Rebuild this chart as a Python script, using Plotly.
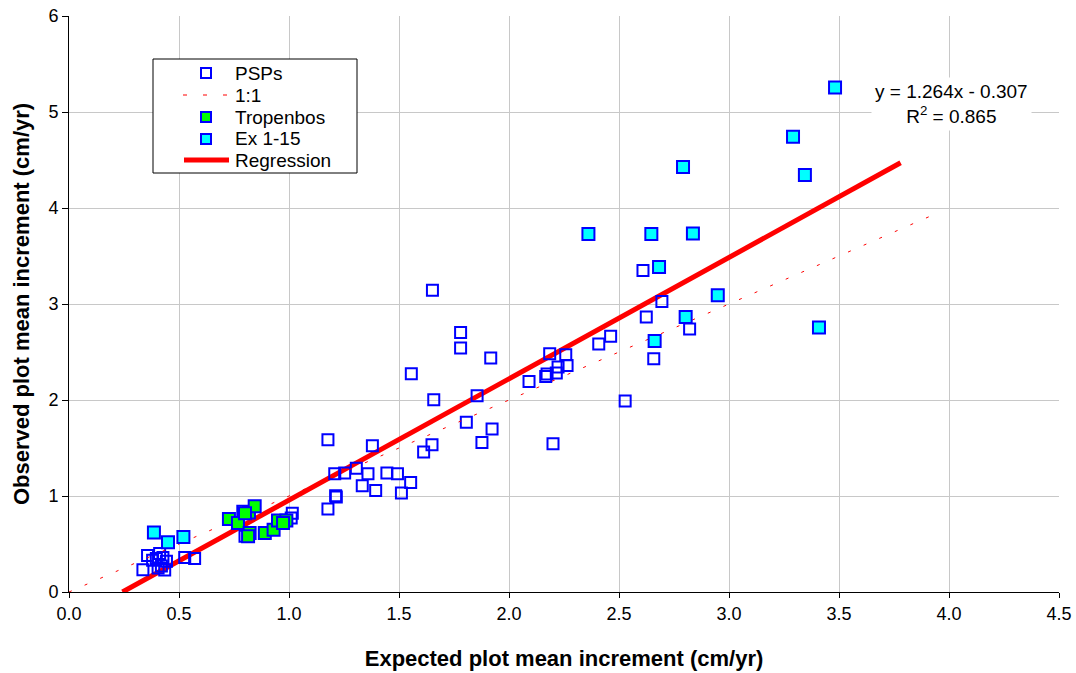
import plotly.graph_objects as go

# PSPs (open squares)
psp_x = [0.336, 0.357, 0.397, 0.412, 0.427, 0.420, 0.435, 0.405, 0.443, 0.526, 0.571, 0.380,
         0.800, 0.790, 1.015, 1.010,
         1.177, 1.212, 1.215, 1.177, 1.379, 1.208, 1.253, 1.306, 1.359, 1.445, 1.493, 1.553,
         1.333, 1.394, 1.511,
         1.556, 1.658, 1.855, 1.806, 1.923, 1.877, 1.650, 1.612,
         1.652, 1.780, 1.780, 1.917,
         2.609, 2.695, 2.624, 2.821, 2.658, 2.462, 2.408, 2.185, 2.258, 2.264, 2.223, 2.215,
         2.173, 2.167, 2.091, 2.528, 2.200]
psp_y = [0.232, 0.380, 0.350, 0.400, 0.360, 0.270, 0.230, 0.250, 0.320, 0.360, 0.350, 0.330,
         0.580, 0.840, 0.820, 0.770,
         0.865, 1.003, 0.990, 1.586, 1.524, 1.232, 1.240, 1.290, 1.232, 1.240, 1.232, 1.140,
         1.107, 1.058, 1.031,
         2.274, 2.003, 2.045, 1.767, 1.698, 1.558, 1.534, 1.458,
         3.142, 2.704, 2.541, 2.437,
         3.350, 3.027, 2.865, 2.740, 2.430, 2.663, 2.583, 2.482, 2.472, 2.360, 2.344, 2.280,
         2.270, 2.246, 2.194, 1.990, 1.545]

# Tropenbos (green)
trop_x = [0.727, 0.768, 0.818, 0.844, 0.800, 0.821, 0.814, 0.890, 0.930, 0.950, 0.988, 0.973]
trop_y = [0.760, 0.719, 0.829, 0.892, 0.820, 0.614, 0.580, 0.614, 0.649, 0.746, 0.746, 0.720]

# Ex 1-15 (cyan)
ex_x = [3.482, 3.291, 3.345, 2.791, 2.361, 2.647, 2.836, 2.682, 2.949, 2.803, 3.409, 2.662,
        0.386, 0.450, 0.520]
ex_y = [5.256, 4.743, 4.344, 4.427, 3.729, 3.730, 3.735, 3.385, 3.090, 2.865, 2.756, 2.615,
        0.621, 0.517, 0.573]

# 1:1 line and regression
one_x = [0.0, 3.95]
one_y = [0.0, 3.95]
slope, intercept = 1.264, -0.307
reg_x = [0.243, 3.78]
reg_y = [slope * v + intercept for v in reg_x]

x_ticks = [0.0, 0.5, 1.0, 1.5, 2.0, 2.5, 3.0, 3.5, 4.0, 4.5]
y_ticks = [0, 1, 2, 3, 4, 5, 6]

legend_names = ["PSPs", "1:1", "Tropenbos", "Ex 1-15", "Regression"]

FONT = "Arial, Liberation Sans, sans-serif"
BLUE = "#0000ff"
RED = "#ff0000"

W, H = 1076, 673
ML, MR, MT, MB = 69, 17, 16, 81
PW, PH = W - ML - MR, H - MT - MB
SL, SB = ML, H - MB   # plot-area left / bottom in page pixels


def px(xp):
    return (xp - SL) / PW


def py(yp):
    return (SB - yp) / PH


fig = go.Figure()
fig.add_trace(go.Scatter(x=reg_x, y=reg_y, mode="lines", name="Regression",
                         line=dict(color=RED, width=5), showlegend=False))
fig.add_trace(go.Scatter(x=psp_x, y=psp_y, mode="markers", name="PSPs", showlegend=False,
                         marker=dict(symbol="square-open", size=11, color=BLUE,
                                     line=dict(color=BLUE, width=2))))
fig.add_trace(go.Scatter(x=one_x, y=one_y, mode="lines", name="1:1", showlegend=False,
                         line=dict(color=RED, width=1, dash="3px,14px")))
fig.add_trace(go.Scatter(x=trop_x, y=trop_y, mode="markers", name="Tropenbos", showlegend=False,
                         marker=dict(symbol="square", size=12, color="#00ff00",
                                     line=dict(color=BLUE, width=2))))
fig.add_trace(go.Scatter(x=ex_x, y=ex_y, mode="markers", name="Ex 1-15", showlegend=False,
                         marker=dict(symbol="square", size=12, color="#00ffff",
                                     line=dict(color=BLUE, width=2))))

# Legend (drawn manually for Excel-like compact layout)
shapes = []
annotations = []
box_l, box_r, box_t, box_b = 153, 357, 59, 173
shapes.append(dict(type="rect", xref="paper", yref="paper",
                   x0=px(box_l), x1=px(box_r), y0=py(box_b), y1=py(box_t),
                   line=dict(color="black", width=1), fillcolor="white", layer="above"))
row_y = [73, 95, 117, 139, 160]
sym_x = 206
half = 5
# PSPs
shapes.append(dict(type="rect", xref="paper", yref="paper",
                   x0=px(sym_x - half), x1=px(sym_x + half),
                   y0=py(row_y[0] + half), y1=py(row_y[0] - half),
                   line=dict(color=BLUE, width=2), fillcolor="white", layer="above"))
# 1:1
shapes.append(dict(type="line", xref="paper", yref="paper",
                   x0=px(183), x1=px(230), y0=py(row_y[1]), y1=py(row_y[1]),
                   line=dict(color=RED, width=1, dash="4px,16px"), layer="above"))
# Tropenbos
shapes.append(dict(type="rect", xref="paper", yref="paper",
                   x0=px(sym_x - half), x1=px(sym_x + half),
                   y0=py(row_y[2] + half), y1=py(row_y[2] - half),
                   line=dict(color=BLUE, width=2), fillcolor="#00ff00", layer="above"))
# Ex 1-15
shapes.append(dict(type="rect", xref="paper", yref="paper",
                   x0=px(sym_x - half), x1=px(sym_x + half),
                   y0=py(row_y[3] + half), y1=py(row_y[3] - half),
                   line=dict(color=BLUE, width=2), fillcolor="#00ffff", layer="above"))
# Regression
shapes.append(dict(type="line", xref="paper", yref="paper",
                   x0=px(184), x1=px(229), y0=py(row_y[4]), y1=py(row_y[4]),
                   line=dict(color=RED, width=5), layer="above"))
for name, ry in zip(legend_names, row_y):
    annotations.append(dict(x=px(233), y=py(ry), xref="paper", yref="paper",
                            xanchor="left", yanchor="middle", text=name, showarrow=False,
                            font=dict(family=FONT, size=19, color="black")))

# Regression equation
annotations.append(dict(x=px(951), y=py(104), xref="paper", yref="paper",
                        xanchor="center", yanchor="middle",
                        text="y = 1.264x - 0.307<br>R<sup>2</sup> = 0.865",
                        showarrow=False, bgcolor="white", align="center", borderpad=3,
                        font=dict(family=FONT, size=19, color="black")))

fig.update_layout(
    width=W, height=H,
    margin=dict(l=ML, r=MR, t=MT, b=MB),
    paper_bgcolor="white", plot_bgcolor="white",
    font=dict(family=FONT, size=18, color="black"),
    showlegend=False,
    shapes=shapes, annotations=annotations,
    xaxis=dict(range=[0, 4.5], tickvals=x_ticks, tickformat=".1f", automargin=False,
               showgrid=True, gridcolor="#c8c8c8", gridwidth=1,
               showline=True, linecolor="black", linewidth=1,
               ticks="outside", ticklen=5, tickcolor="black", zeroline=False,
               tickfont=dict(family=FONT, size=18),
               title=dict(text="<b>Expected plot mean increment (cm/yr)</b>",
                          font=dict(family=FONT, size=22), standoff=28)),
    yaxis=dict(range=[0, 6], tickvals=y_ticks, automargin=False,
               showgrid=True, gridcolor="#c8c8c8", gridwidth=1,
               showline=True, linecolor="black", linewidth=1,
               ticks="outside", ticklen=6, tickcolor="black", zeroline=False,
               tickfont=dict(family=FONT, size=18),
               title=dict(text="<b>Observed plot mean increment (cm/yr)</b>",
                          font=dict(family=FONT, size=22), standoff=12)),
)

fig.write_html("out.html", config={"displayModeBar": False},
               post_script="document.body.style.margin='0';")
